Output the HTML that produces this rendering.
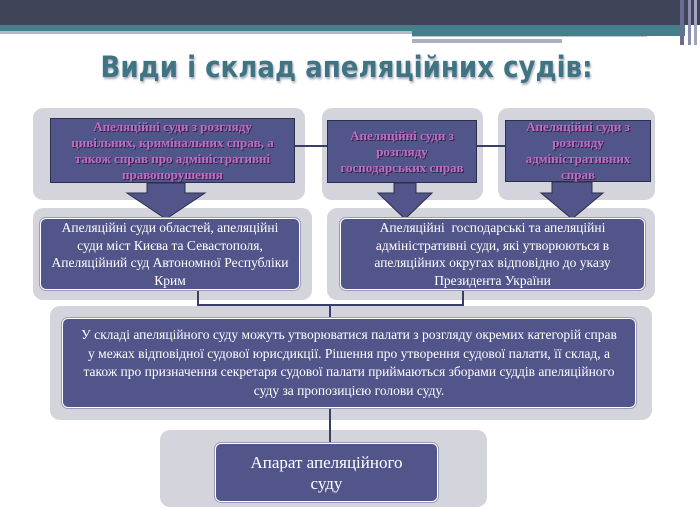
<!DOCTYPE html>
<html><head><meta charset="utf-8"><style>
body{margin:0;width:700px;height:525px;background:#fff;position:relative;overflow:hidden;font-family:"Liberation Serif",serif}
div{position:absolute;box-sizing:border-box}
.g{background:#d4d5dc;border-radius:10px}
.d{background:#52558a;border:1.5px solid #2c2f4c;display:flex;align-items:center;justify-content:center;text-align:center;white-space:nowrap}
.m{color:#c36bc6;font-weight:bold;font-size:13px;line-height:16px;text-shadow:1px 1px 0 #2a2440}
.w{background:#52558a;border:1.5px solid #fff;border-radius:6px;box-shadow:0 0 0 1px #9a9cb5;color:#fff;display:flex;align-items:center;justify-content:center;text-align:center;font-size:13.5px;line-height:17.5px;white-space:nowrap}
.l{background:#3a3f6a}
</style></head><body>
<div style="left:0;top:0;width:700px;height:25px;background:#3f4459"></div>
<div style="left:0;top:25px;width:685px;height:7px;background:#44808c"></div>
<div style="left:0;top:31px;width:412px;height:3px;background:#b4b8c8"></div>
<div style="left:412px;top:32px;width:273px;height:4px;background:#44808c"></div>
<div style="left:412px;top:38px;width:150px;height:5px;background:#aab0c0"></div>
<div style="left:412px;top:36px;width:235px;height:3px;background:#fff;border-top:1px solid #c0c4d0"></div>
<div style="left:680px;top:0;width:4px;height:45px;background:#6a6d90"></div>
<div style="left:688px;top:0;width:3px;height:45px;background:#8a8dab"></div>
<div style="left:694px;top:0;width:3px;height:45px;background:#a0a3bb"></div>
<div style="left:0;top:50px;width:693px;text-align:center;font-family:'DejaVu Sans Condensed','DejaVu Sans',sans-serif;font-weight:bold;font-size:29px;color:#3f7482;text-shadow:1px 2px 2px #aab">Види і склад апеляційних судів:</div>

<div class="g" style="left:33px;top:108px;width:272px;height:92px"></div>
<div class="g" style="left:322px;top:108px;width:161px;height:92px"></div>
<div class="g" style="left:498px;top:108px;width:157px;height:92px"></div>
<div class="l" style="left:295px;top:145px;width:210px;height:2px"></div>
<div class="d m" style="left:50px;top:118px;width:245px;height:65px">Апеляційні суди з розгляду<br>цивільних, кримінальних справ, а<br>також справ про адміністративні<br>правопорушення</div>
<div class="d m" style="left:327px;top:120px;width:150px;height:63px">Апеляційні суди з<br>розгляду<br>господарських справ</div>
<div class="d m" style="left:505px;top:120px;width:146px;height:62px">Апеляційні суди з<br>розгляду<br>адміністративних<br>справ</div>

<div class="g" style="left:33px;top:208px;width:279px;height:92px"></div>
<div class="g" style="left:327px;top:208px;width:328px;height:92px"></div>
<div class="g" style="left:50px;top:306px;width:602px;height:114px"></div>
<div class="g" style="left:160px;top:430px;width:327px;height:77px"></div>

<svg style="position:absolute;left:0;top:0" width="700" height="525">
<g fill="#52558a" stroke="#2c2f4c" stroke-width="1">
<polygon points="147,183 185,183 185,193 205,193 166,219 127,193 147,193"/>
<polygon points="394,183 416,183 416,193 432,193 405,219 378,193 394,193"/>
<polygon points="552,182 592,182 592,193 603,193 572,219 541,193 552,193"/>
</g>
<g stroke="#3a3f6a" stroke-width="2" fill="none">
<path d="M198,288 V305 H463 V288"/>
<path d="M330,305 V320"/>
<path d="M330,406 V446"/>
</g>
</svg>

<div class="w" style="left:40px;top:218px;width:260px;height:72px">Апеляційні суди областей, апеляційні<br>суди міст Києва та Севастополя,<br>Апеляційний суд Автономної Республіки<br>Крим</div>
<div class="w" style="left:340px;top:218px;width:305px;height:72px">Апеляційні&nbsp; господарські та апеляційні<br>адміністративні суди, які утворюються в<br>апеляційних округах відповідно до указу<br>Президента України</div>
<div class="w" style="left:62px;top:318px;width:574px;height:90px;font-size:13.5px;line-height:18.5px">У складі апеляційного суду можуть утворюватися палати з розгляду окремих категорій справ<br>у межах відповідної судової юрисдикції. Рішення про утворення судової палати, її склад, а<br>також про призначення секретаря судової палати приймаються зборами суддів апеляційного<br>суду за пропозицією голови суду.</div>
<div class="w" style="left:215px;top:443px;width:223px;height:59px;font-size:17px;line-height:21px">Апарат апеляційного<br>суду</div>
</body></html>
